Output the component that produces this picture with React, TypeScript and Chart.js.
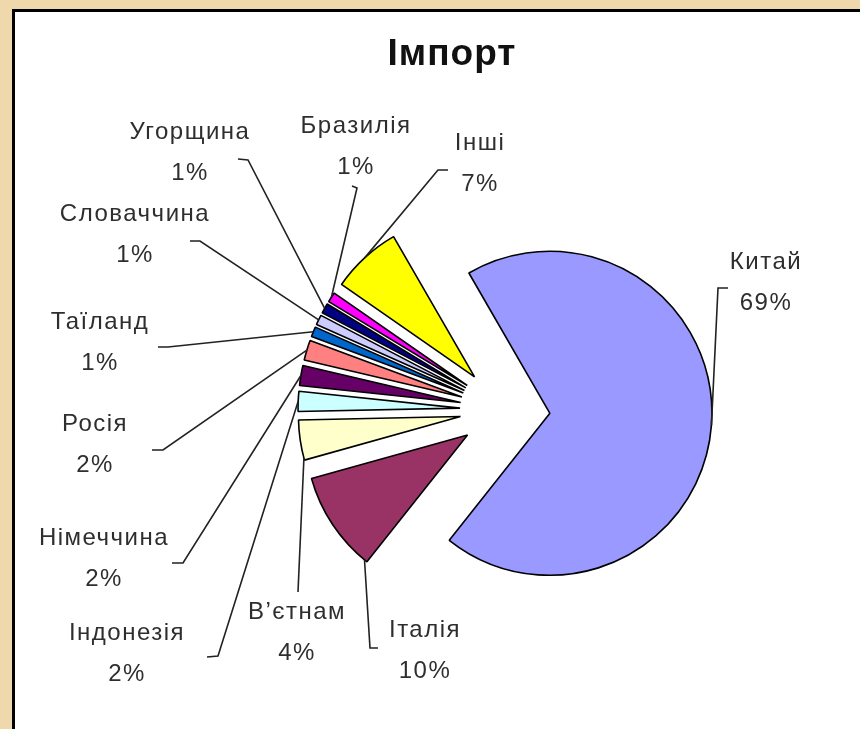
import React, { useEffect, useRef } from "react";
import { Chart, registerables } from "chart.js";

Chart.register(...registerables);

// ---- data ----
const titleText = "Імпорт";
const categories = [
  "Китай",
  "Італія",
  "В’єтнам",
  "Індонезія",
  "Німеччина",
  "Росія",
  "Таїланд",
  "Словаччина",
  "Угорщина",
  "Бразилія",
  "Інші",
];
const shares = [69, 10, 4, 2, 2, 2, 1, 1, 1, 1, 7];
const sliceColors = [
  "#9999FF",
  "#993366",
  "#FFFFCC",
  "#CCFFFF",
  "#660066",
  "#FF8080",
  "#0066CC",
  "#CCCCFF",
  "#000080",
  "#FF00FF",
  "#FFFF00",
];

// ---- label layout (relative to pie centre) ----
const labelPos: [number, number][] = [
  [261, -148],
  [-80, 220],
  [-208, 202],
  [-378, 223],
  [-401, 128],
  [-410, 14],
  [-405, -88],
  [-370, -196],
  [-315, -278],
  [-149, -284],
  [-25, -267],
];
const leaderPath: [number, number, number, number][] = [
  [223, -122, 213, -122],
  [-127, 238, -135, 238],
  [-207, 182, -207, 182],
  [-298, 247, -287, 246],
  [-333, 153, -322, 153],
  [-353, 40, -342, 40],
  [-347, -63, -337, -63],
  [-315, -169, -305, -169],
  [-267, -251, -257, -250],
  [-153, -224, -148, -222],
  [-57, -240, -67, -240],
];
const leaderAt = [0.5, 0.03, 0.05, 0.5, 0.5, 0.5, 0.5, 0.5, 0.5, 0.5, 0.5];
const titlePos: [number, number] = [-53, -355];
const LINE_GAP = 41;

const EXPLODE = 45; // distance every slice is pulled out from the centre
const RADIUS = 162;
const ROTATION = -30;

const explodedPie = {
  id: "explodedPie",
  beforeDatasetDraw(chart: any, args: any) {
    const ctx: CanvasRenderingContext2D = chart.ctx;
    const area = chart.chartArea;
    args.meta.data.forEach((el: any) => {
      const mid = (el.startAngle + el.endAngle) / 2;
      ctx.save();
      ctx.translate(Math.cos(mid) * EXPLODE, Math.sin(mid) * EXPLODE);
      el.draw(ctx, area);
      ctx.restore();
    });
    return false;
  },
  afterDatasetsDraw(chart: any) {
    const meta = chart.getDatasetMeta(0);
    const ctx: CanvasRenderingContext2D = chart.ctx;
    if (!meta.data.length) return;
    const cx = meta.data[0].x;
    const cy = meta.data[0].y;
    const total = shares.reduce((a, b) => a + b, 0);
    ctx.save();
    ctx.textAlign = "center";
    ctx.textBaseline = "middle";
    ctx.fillStyle = "#111";
    ctx.font = 'bold 37px "Liberation Sans", Arial, sans-serif';
    (ctx as any).letterSpacing = "1px";
    ctx.fillText(titleText, cx + titlePos[0], cy + titlePos[1]);

    ctx.strokeStyle = "#222";
    ctx.lineWidth = 1.6;
    ctx.font = '24px "Liberation Sans", Arial, sans-serif';
    (ctx as any).letterSpacing = "1.5px";
    ctx.fillStyle = "#2e2e2e";
    meta.data.forEach((el: any, i: number) => {
      const mid = (el.startAngle + el.endAngle) / 2;
      const ax = el.x + Math.cos(mid) * EXPLODE;
      const ay = el.y + Math.sin(mid) * EXPLODE;
      const r = el.outerRadius;
      const a = el.startAngle + leaderAt[i] * (el.endAngle - el.startAngle);
      const tx = ax + Math.cos(a) * r;
      const ty = ay + Math.sin(a) * r;
      const [sx, sy, bx, by] = leaderPath[i];
      ctx.beginPath();
      ctx.moveTo(cx + sx, cy + sy);
      ctx.lineTo(cx + bx, cy + by);
      ctx.lineTo(tx, ty);
      ctx.stroke();

      const [lx, ly] = labelPos[i];
      ctx.fillText(categories[i], cx + lx, cy + ly);
      ctx.fillText(Math.round((shares[i] / total) * 100) + "%", cx + lx, cy + ly + LINE_GAP);
    });
    ctx.restore();
  },
};

export default function App() {
  const ref = useRef<HTMLCanvasElement | null>(null);

  useEffect(() => {
    document.body.style.margin = "0";
    if (!ref.current) return;
    const chart = new Chart(ref.current, {
      type: "pie",
      data: {
        labels: categories,
        datasets: [
          {
            data: shares,
            backgroundColor: sliceColors,
            borderColor: "#000",
            borderWidth: 1.6,
            offset: 0,
            hoverOffset: 0,
            rotation: ROTATION,
            radius: RADIUS,
          } as any,
        ],
      },
      options: {
        responsive: false,
        animation: false,
        rotation: ROTATION,
        layout: { padding: { left: 150, right: 0, top: 91, bottom: 0 } },
        plugins: {
          legend: { display: false },
          tooltip: { enabled: false },
          title: { display: false },
        },
        events: [],
      } as any,
      plugins: [explodedPie],
    });
    return () => chart.destroy();
  }, []);

  return (
    <div
      style={{
        position: "relative",
        width: 860,
        height: 729,
        background: "#EFD8AC",
        overflow: "hidden",
      }}
    >
      <div
        style={{
          position: "absolute",
          left: 12,
          top: 9,
          right: 0,
          bottom: 0,
          background: "#fff",
          borderLeft: "3px solid #000",
          borderTop: "3px solid #000",
        }}
      />
      <canvas
        ref={ref}
        width={860}
        height={729}
        style={{ position: "absolute", left: 0, top: 0, width: 860, height: 729 }}
      />
    </div>
  );
}
